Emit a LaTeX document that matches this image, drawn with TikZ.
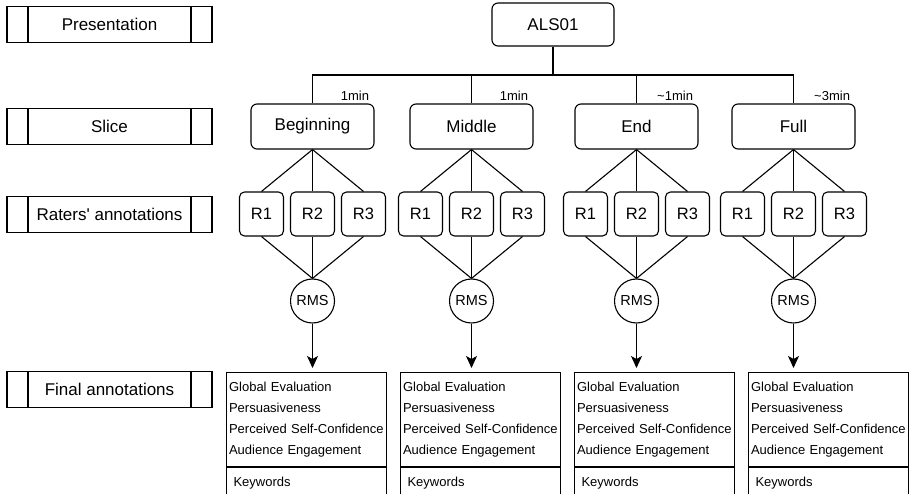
\documentclass[tikz,border=0pt]{standalone}
\usepackage{fontspec}
\setmainfont{Liberation Sans}
\usetikzlibrary{arrows.meta}

\begin{document}
\begin{tikzpicture}[x=1pt, y=-1pt, line width=1.1pt,
    lane/.style={draw, minimum width=205pt, minimum height=36.5pt, inner sep=0pt, font=\fontsize{17}{20}\selectfont,
      path picture={
        \draw ([xshift=21pt]path picture bounding box.north west) -- ([xshift=21pt]path picture bounding box.south west);
        \draw ([xshift=-21pt]path picture bounding box.north east) -- ([xshift=-21pt]path picture bounding box.south east);}},
    slice/.style={draw, rounded corners=6pt, minimum width=123pt, minimum height=45pt, inner sep=0pt, font=\fontsize{17}{20}\selectfont},
    rater/.style={draw, rounded corners=5pt, minimum width=44pt, minimum height=44pt, inner sep=0pt, font=\fontsize{16.5}{20}\selectfont},
    rms/.style={draw, circle, minimum size=44pt, inner sep=0pt, font=\fontsize{14.5}{17}\selectfont},
    dur/.style={anchor=south east, inner sep=0pt, font=\fontsize{13}{15}\selectfont},
    final/.style={draw, anchor=north west, text width=155pt, inner xsep=2.5pt, inner ysep=0pt, minimum height=94pt, align=left, font=\fontsize{13}{21}\selectfont},
    keys/.style={draw, anchor=north west, text width=146pt, inner xsep=7pt, inner ysep=0pt, minimum height=30pt, align=left, font=\fontsize{13}{15}\selectfont}]

    \useasboundingbox (0,0) rectangle (913,494);
    \clip (0,0) rectangle (913,494);

    % levels on the left
    \node[lane] (presentation) at (109.5, 24.5) {Presentation};
    \node[lane] (slicelane) at (109.5, 126.5) {Slice};
    \node[lane] (raterlane) at (109.5, 214.5) {Raters\textquotesingle{} annotations};
    \node[lane] (finallane) at (109.5, 389.5) {Final annotations};

    % the presentation
    \node[slice, minimum width=122pt, minimum height=43pt] (als) at (553, 24.5) {ALS01};
    \coordinate (bus) at (553, 75);
    \draw (als) -- (bus);

    % one column per slice
    \foreach \col/\cx/\lab/\len/\fx in {beginning/312.5/Beginning/1min/226, middle/471.5/Middle/1min/400,
        end/636.5/End/{\textasciitilde 1min}/574, full/793.5/Full/{\textasciitilde 3min}/748} {
        \node[slice] (\col) at (\cx, 126.5) {\lab};
        \node[dur] (\col-len) at ([xshift=-5pt, yshift=2pt]\col.north east) {\len};
        \draw (bus) -| (\col.north);

        \node[rms] (\col-rms) at (\cx, 301) {RMS};
        \foreach \r/\dx in {1/-51, 2/0, 3/51} {
            \node[rater] (\col-r\r) at (\cx+\dx, 214) {R\r};
            \draw (\col.south) -- (\col-r\r.north);
            \draw (\col-r\r.south) -- (\col-rms.north);
        }

        \node[final] (\col-fin) at (\fx, 372) {Global Evaluation\\Persuasiveness\\Perceived Self-Confidence\\Audience Engagement};
        \node[keys] (\col-key) at (\col-fin.south west) {Keywords};
        \draw[-{Stealth[length=12pt, width=11pt, inset=3pt]}, shorten >=4pt] (\col-rms) -- (\col-rms |- \col-fin.north);
    }
\end{tikzpicture}
\end{document}
